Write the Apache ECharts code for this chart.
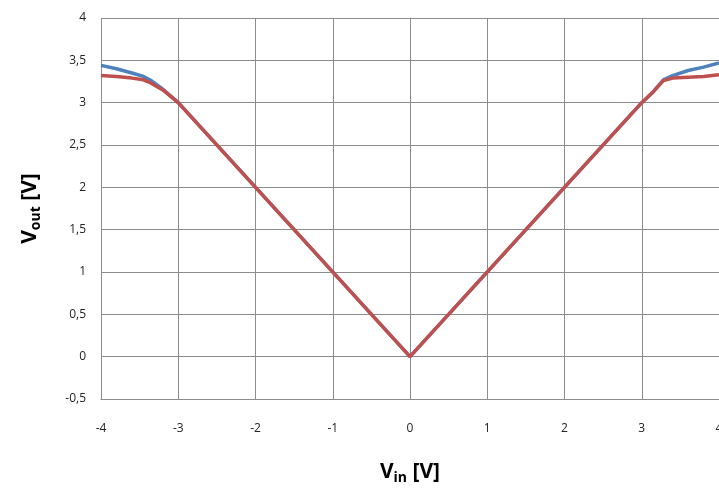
<!DOCTYPE html>
<html>
<head>
<meta charset="utf-8">
<script src="https://cdn.jsdelivr.net/npm/echarts@6/dist/echarts.min.js"></script>
<style>html,body{margin:0;padding:0;background:#fff;}#c{width:719px;height:491px;}</style>
</head>
<body>
<div id="c"></div>
<script>
// Data
const blueX = [-4, -3.8, -3.6, -3.45, -3.35, -3.2, -3, 0, 3, 3.15, 3.28, 3.4, 3.6, 3.8, 4];
const blueY = [3.44, 3.40, 3.35, 3.31, 3.26, 3.16, 3, 0, 3, 3.13, 3.27, 3.32, 3.38, 3.42, 3.47];
const redX  = [-4, -3.8, -3.6, -3.45, -3.35, -3.2, -3, 0, 3, 3.15, 3.28, 3.4, 3.6, 3.8, 4];
const redY  = [3.32, 3.31, 3.29, 3.27, 3.23, 3.15, 3, 0, 3, 3.13, 3.26, 3.29, 3.30, 3.31, 3.33];
const xTicks = [-4, -3, -2, -1, 0, 1, 2, 3, 4];
const yTicks = [-0.5, 0, 0.5, 1, 1.5, 2, 2.5, 3, 3.5, 4];

const chart = echarts.init(document.getElementById('c'), null, {renderer: 'canvas'});
const font = 'Open Sans';
const gridColor = '#8c8c8c';
const titleRich = {
  v: {fontSize: 21, fontWeight: 'bold', fontFamily: font, color: '#000'},
  s: {fontSize: 14, fontWeight: 'bold', fontFamily: font, color: '#000', padding: [12, 0, 0, 0]}
};
chart.setOption({
  animation: false,
  backgroundColor: '#fff',
  grid: {left: 101, top: 18, width: 618, height: 381, containLabel: false, outerBoundsMode: 'none'},
  xAxis: {
    type: 'value', min: xTicks[0], max: xTicks[xTicks.length - 1], interval: 1,
    axisLine: {show: true, onZero: false, lineStyle: {color: gridColor, width: 1}},
    axisTick: {show: false},
    splitLine: {show: true, lineStyle: {color: gridColor, width: 1}},
    axisLabel: {margin: 24, fontSize: 12, fontFamily: font, color: '#222', showMaxLabel: true},
    name: '{v|V}{s|in}{v| [V]}', nameLocation: 'middle', nameGap: 60,
    nameTextStyle: {rich: titleRich}
  },
  yAxis: {
    type: 'value', min: yTicks[0], max: yTicks[yTicks.length - 1], interval: 0.5,
    axisLine: {show: true, lineStyle: {color: gridColor, width: 1}},
    axisTick: {show: false},
    splitLine: {show: true, lineStyle: {color: gridColor, width: 1}},
    axisLabel: {margin: 15, fontSize: 12, fontFamily: font, color: '#222',
      formatter: v => String(v).replace('.', ',')},
    name: '{v|V}{s|out}{v| [V]}', nameLocation: 'middle', nameGap: 58, nameRotate: 90,
    nameTextStyle: {rich: titleRich}
  },
  series: [
    {type: 'line', data: blueX.map((x, i) => [x, blueY[i]]), showSymbol: false, symbol: 'none',
     lineStyle: {color: '#4F81BD', width: 3.5}, z: 2},
    {type: 'line', data: redX.map((x, i) => [x, redY[i]]), showSymbol: false, symbol: 'none',
     lineStyle: {color: '#C0504D', width: 3.5}, z: 3}
  ]
});
</script>
</body>
</html>
